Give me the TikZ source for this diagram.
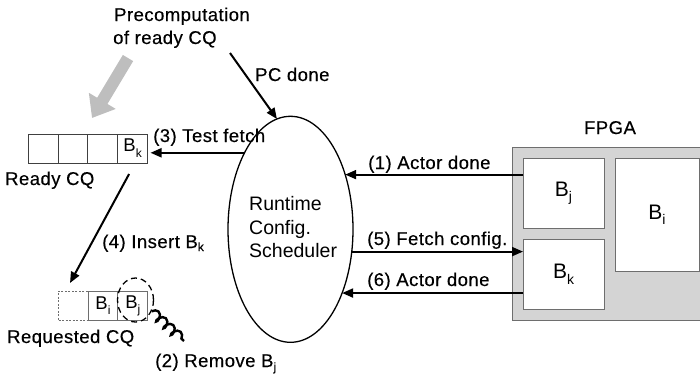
\documentclass[tikz,border=0pt]{standalone}
\usepackage{fontspec}
\setmainfont{Liberation Sans}
\newfontfamily\lblfont[LetterSpace=2.5,FakeBold=0.35]{Liberation Sans}
\usetikzlibrary{arrows.meta,shapes.geometric,decorations.pathmorphing}

% lowered subscripts: #1 size, #2 drop, #3 letter
\newcommand\sbs[3]{\raisebox{-#2}{\fontsize{#1}{#1}\selectfont #3}}

\definecolor{fpgagray}{RGB}{212,212,212}
\definecolor{edgegray}{RGB}{110,110,110}
\definecolor{pcgray}{RGB}{190,190,190}

\tikzset{
  lbl/.style={inner sep=0pt, anchor=base west, font=\lblfont\fontsize{18.5}{21}\selectfont},
  qcell/.style={draw, line width=0.9pt, minimum width=29.8pt, minimum height=29pt,
                inner sep=0pt, outer sep=0pt, font=\fontsize{18.5}{20}\selectfont},
  rqcell/.style={qcell, draw=black!75},
  reqcell/.style={qcell, draw=edgegray},
  blk/.style={draw=edgegray, fill=white, line width=0.9pt, inner sep=0pt, outer sep=0pt,
              font=\fontsize{21}{22}\selectfont},
  arr/.style={line width=2pt, -{Triangle[length=11pt,width=9pt]}},
}

\begin{document}
\begin{tikzpicture}[x=1pt, y=-1pt]
\useasboundingbox (0,0) rectangle (700,376);

% precomputation label and its wide gray arrow
\node[lbl] (pre1) at (114,21) {Precomputation};
\node[lbl] (pre2) at (113,44) {of ready CQ};
\coordinate (gstart) at (128,58);
\coordinate (gend) at (92,118);
\draw[pcgray, line width=12pt, -{Triangle[length=20pt,width=30pt]}] (gstart) -- (gend);

% ready configuration queue
\node[rqcell] (rq1) at (43.2,148.5) {};
\node[rqcell] (rq2) at (73.0,148.5) {};
\node[rqcell] (rq3) at (102.8,148.5) {};
\node[rqcell] (rq4) at (132.6,148.5) {B\sbs{12}{6pt}{k}};
\node[lbl] (rqlbl) at (5,185) {Ready CQ};

% requested configuration queue
\node[reqcell, draw=edgegray, dashed, dash pattern=on 2pt off 1.5pt] (dq) at (73.5,305.5) {};
\node[reqcell] (qi) at (103,305.5) {B\sbs{12}{5pt}{i}};
\node[reqcell] (qj) at (132.8,305.5) {B\sbs{12}{5pt}{j}};
\node[lbl] (reqlbl) at (7,343) {Requested CQ};

% entry being removed
\node[draw, ellipse, dashed, dash pattern=on 6pt off 4pt, line width=1.3pt,
      minimum width=36pt, minimum height=44pt, inner sep=0pt] (rm) at (135.5,300) {};
\coordinate (coilend) at (184,341);
\draw[line width=2.4pt, decorate,
      decoration={coil, aspect=0.6, amplitude=4.5pt, segment length=10pt}]
  (rm.-35) -- (coilend);
\node[lbl] (rmlbl) at (155,367) {(2) Remove B\sbs{12}{4pt}{j}};

% scheduler
\node[draw, ellipse, line width=1.3pt, minimum width=125pt, minimum height=226pt,
      inner sep=0pt, outer sep=0pt] (sched) at (290.5,229.3) {};
\node[lbl, font=\fontsize{19.5}{22}\selectfont] (st1) at (249,210) {Runtime};
\node[lbl, font=\fontsize{19.5}{22}\selectfont] (st2) at (249,234) {Config.};
\node[lbl, font=\fontsize{19.5}{22}\selectfont] (st3) at (249,257) {Scheduler};

% FPGA and its regions
\node[lbl, anchor=base] (fpgalbl) at (610,134) {FPGA};
\node[draw=edgegray, fill=fpgagray, line width=0.9pt, minimum width=193pt,
      minimum height=173pt, inner sep=0pt, outer sep=0pt] (fpga) at (608.5,233.5) {};
\node[blk, minimum width=81pt, minimum height=70pt] (bj) at (563.5,193) {B\sbs{14}{5pt}{j}};
\node[blk, minimum width=81pt, minimum height=70pt] (bk) at (563.5,274) {B\sbs{14}{6pt}{k}};
\node[blk, minimum width=84pt, minimum height=113pt] (bi) at (657,214.5) {B\sbs{14}{5pt}{i}};

% control flow
\coordinate (pcs) at (230,53);
\draw[arr] (pcs) -- (sched.97);
\node[lbl] (pclbl) at (255,81) {PC done};

\draw[arr] (sched.121) -- ([xshift=3pt]rq4.east |- sched.121);
\node[lbl] (tflbl) at (153,142) {(3) Test fetch};

\draw[arr] ([shift={(-3.5,11)}]rq4.south) -- ([shift={(-3.5,-8)}]dq.north);
\node[lbl] (inslbl) at (102,248) {(4) Insert B\sbs{12}{3pt}{k}};

\draw[arr] (bj.west |- sched.45) -- (sched.45);
\node[lbl] (a1lbl) at (368,169) {(1) Actor done};

\draw[arr] (sched.-20) -- (bk.west |- sched.-20);
\node[lbl] (fclbl) at (367,245) {(5) Fetch config.};

\draw[arr] (bk.west |- sched.-51) -- (sched.-51);
\node[lbl] (a6lbl) at (367,286) {(6) Actor done};
\end{tikzpicture}
\end{document}
